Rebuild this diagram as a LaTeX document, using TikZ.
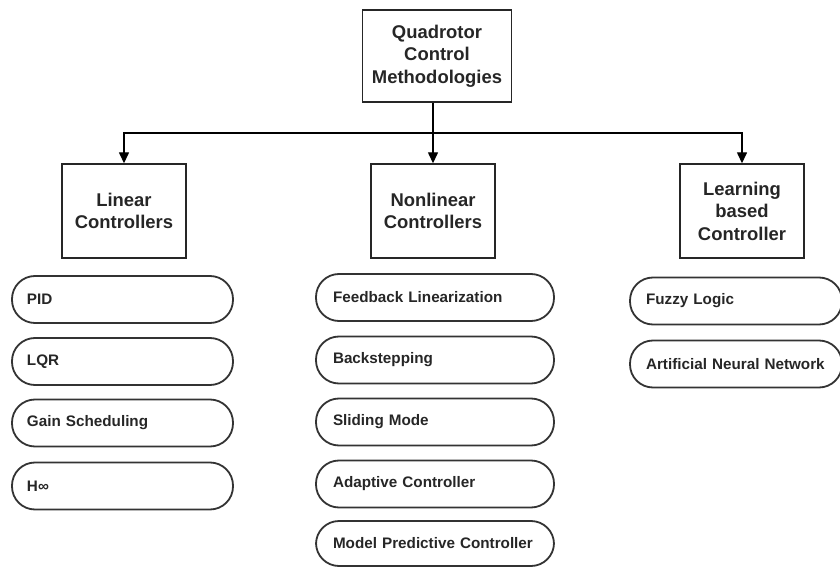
\documentclass[tikz,border=0pt]{standalone}
\usepackage{fontspec}
\setmainfont{Liberation Sans}
\usetikzlibrary{arrows.meta}
\begin{document}
\begin{tikzpicture}[x=1bp,y=-1bp,
  hbox/.style={draw=black!85, line width=1.4bp, minimum width=124bp, minimum height=94bp,
    align=center, inner sep=0pt, text=black!85, font=\bfseries\fontsize{18.5}{22.5}\selectfont},
  pill/.style={draw=black!80, line width=1.8bp, rounded corners=23bp, minimum height=47bp,
    align=left, inner ysep=0pt, text=black!85, font=\bfseries\fontsize{15.3}{18}\selectfont},
  pillA/.style={pill, text width=191bp, inner xsep=15bp},
  pillB/.style={pill, text width=204bp, inner xsep=17bp},
  pillC/.style={pill, text width=180bp, inner xsep=16bp},
  arr/.style={draw=black, line width=1.4bp, -{Triangle[length=11bp,width=10bp]}},
  conn/.style={draw=black, line width=1.4bp}]
\useasboundingbox (0,0) rectangle (840,567);
% header boxes
\node[hbox, minimum width=149bp, minimum height=92bp] (top) at (437,56) {Quadrotor\\Control\\Methodologies};
\node[hbox] (lin) at (124,211) {Linear\\Controllers};
\node[hbox] (nl) at (433,211) {Nonlinear\\Controllers};
\node[hbox] (learn) at (742,211) {Learning\\based\\Controller};
\coordinate (j) at (433,133);
% connectors
\draw[arr] (nl.north |- top.south) -- (nl.north);
\draw[arr] (j) -| (lin.north);
\draw[arr] (j) -| (learn.north);
% linear
\node[pillA] (pid) at (122.5,299.5) {PID};
\node[pillA] (lqr) at (122.5,361.5) {LQR};
\node[pillA] (gs) at (122.5,423) {Gain Scheduling};
\node[pillA] (hinf) at (122.5,486) {H∞};
% nonlinear
\node[pillB] (fl) at (435,297.5) {Feedback Linearization};
\node[pillB] (bs) at (435,360) {Backstepping};
\node[pillB] (sm) at (435,422) {Sliding Mode};
\node[pillB] (ac) at (435,484) {Adaptive Controller};
\node[pillB, minimum height=45bp] (mpc) at (435,543.5) {Model Predictive Controller};
% learning
\node[pillC] (fz) at (736,301) {Fuzzy Logic};
\node[pillC] (ann) at (736,364) {Artificial Neural Network};
\end{tikzpicture}
\end{document}
